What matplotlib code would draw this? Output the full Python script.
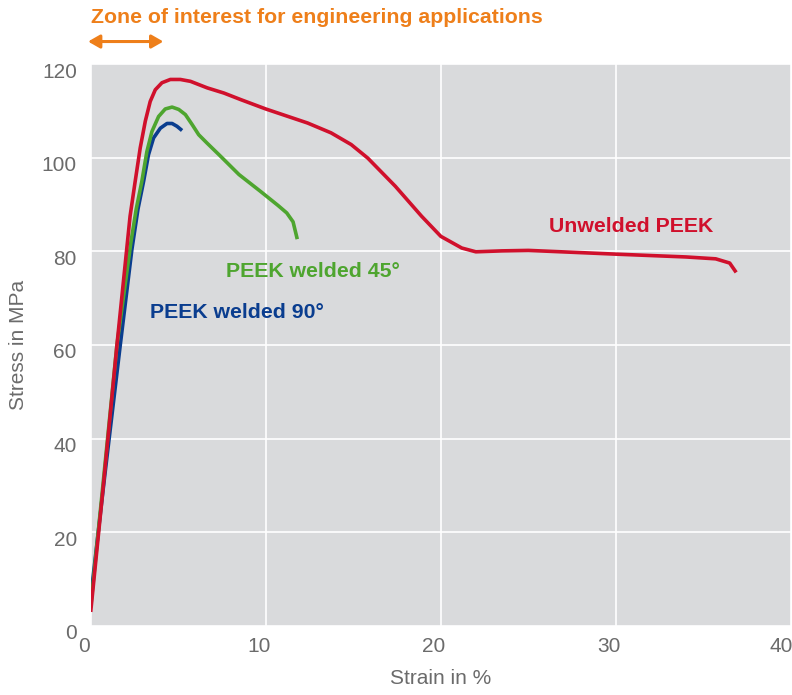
import matplotlib
matplotlib.use("Agg")
import matplotlib.pyplot as plt
from matplotlib.transforms import ScaledTranslation

plt.rcParams['font.family'] = ['Liberation Sans', 'DejaVu Sans']

# stress-strain curves, strain in %, stress in MPa
unwelded_x = [0, 0.75, 1.5, 2.25, 2.54, 2.83, 3.12, 3.40, 3.69, 4.07, 4.55, 5.12, 5.70,
              6.66, 7.61, 8.57, 10.0, 12.39, 13.73, 14.88, 15.83, 17.4, 18.9, 20.0,
              21.2, 22.0, 23.5, 25.0, 30.0, 34.0, 35.7, 36.5, 36.87]
unwelded_y = [3, 31, 60, 87.5, 94.9, 102.1, 107.8, 112.0, 114.5, 116.0, 116.7, 116.7, 116.3,
              114.9, 113.8, 112.4, 110.4, 107.4, 105.3, 102.8, 99.9, 93.9, 87.5, 83.2,
              80.7, 79.9, 80.1, 80.2, 79.4, 78.8, 78.4, 77.5, 75.5]

w45_x = [0, 0.75, 1.5, 2.3, 2.6, 2.92, 3.21, 3.50, 3.88, 4.26, 4.65, 5.03, 5.41, 5.79,
         6.17, 6.65, 7.42, 8.47, 9.7, 10.7, 11.2, 11.56, 11.8]
w45_y = [4, 32, 60, 82, 89, 94.9, 101.3, 105.6, 108.8, 110.4, 110.8, 110.3, 109.2, 107.1,
         104.9, 103.1, 100.3, 96.4, 92.8, 89.8, 88.2, 86.3, 82.6]

w90_x = [0, 0.8, 1.68, 2.35, 2.7, 3.02, 3.30, 3.59, 3.98, 4.36, 4.65, 4.93, 5.22]
w90_y = [6, 32, 59.7, 80.3, 89, 94.9, 100.6, 104.2, 106.3, 107.3, 107.3, 106.7, 105.8]

red = '#D0102C'
green = '#4EA52F'
blue = '#0A3D8F'
orange = '#EE7F1A'
grey_txt = '#6B6B6B'

fig = plt.figure(figsize=(7.92, 6.95), dpi=100)
ax = fig.add_axes([0.1145, 0.0993, 0.8842, 0.8086])
ax.set_facecolor('#D9DADC')

for xs, ys, c in [(w90_x, w90_y, blue), (w45_x, w45_y, green), (unwelded_x, unwelded_y, red)]:
    ax.plot(xs, ys, color=c, lw=2.6, solid_capstyle='butt', solid_joinstyle='round')

ax.set_xlim(0, 40)
ax.set_ylim(0, 120)
ax.set_xticks([0, 10, 20, 30, 40])
ax.set_yticks([0, 20, 40, 60, 80, 100, 120])
ax.grid(True, color='white', lw=1.2)
ax.set_axisbelow(True)
for s in ax.spines.values():
    s.set_visible(False)
ax.tick_params(length=0, labelsize=15, labelcolor=grey_txt)
ax.tick_params(axis='x', pad=8)
ax.tick_params(axis='y', pad=10)

# labels in the reference sit a little off the grid lines
xlabels = ax.get_xticklabels()
for i, lbl in enumerate(xlabels):
    dx = -10 if i == len(xlabels) - 1 else -7
    lbl.set_transform(lbl.get_transform() + ScaledTranslation(dx / 100, 0, fig.dpi_scale_trans))
for lbl in ax.get_yticklabels():
    lbl.set_transform(lbl.get_transform() + ScaledTranslation(0, -6 / 100, fig.dpi_scale_trans))

ax.set_xlabel('Strain in %', fontsize=15, color=grey_txt, labelpad=9)
ax.set_ylabel('Stress in MPa', fontsize=15, color=grey_txt, labelpad=10)

ax.text(26.2, 85.3, 'Unwelded PEEK', color=red, fontsize=15.3, fontweight='bold', va='center')
ax.text(7.75, 75.6, 'PEEK welded 45°', color=green, fontsize=15.3, fontweight='bold', va='center')
ax.text(3.4, 66.9, 'PEEK welded 90°', color=blue, fontsize=15.3, fontweight='bold', va='center')

ax.text(0, 129.9, 'Zone of interest for engineering applications', color=orange,
        fontsize=15.3, fontweight='bold', va='center', ha='left', clip_on=False)
ax.annotate('', xy=(-0.15, 124.8), xytext=(4.15, 124.8), annotation_clip=False,
            arrowprops=dict(arrowstyle='<|-|>,head_length=0.7,head_width=0.4',
                            color=orange, lw=2.2, shrinkA=0, shrinkB=0))

fig.savefig('out.png', dpi=100)
